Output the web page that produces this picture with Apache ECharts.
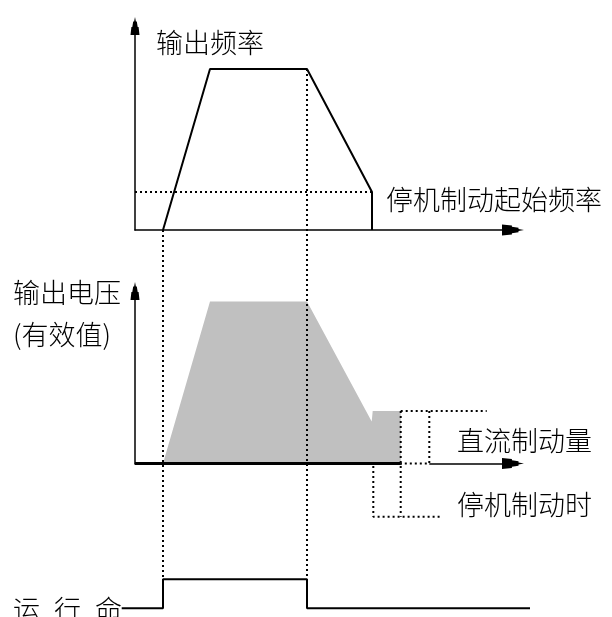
<!DOCTYPE html>
<html>
<head>
<meta charset="utf-8">
<script src="https://cdn.jsdelivr.net/npm/echarts@6/dist/echarts.min.js"></script>
<style>
  html, body { margin: 0; padding: 0; background: #fff; }
  #chart { width: 612px; height: 617px; }
</style>
</head>
<body>
<div id="chart"></div>
<script>
// time axis shared by the three panels (1 unit ~ 1 px)
var tFreq = [28, 75, 172, 237, 237];
var freqVals = [0, 161, 161, 38, 0];
var brakeFreq = 38;
var brakeFreqEnd = 237;

var tVolt = [28, 75, 172, 236.7, 237.7, 265.7, 265.7];
var voltVals = [0, 162, 162, 42, 52.5, 52.5, 0];
var voltBaseEnd = 265.7;

var tRun = [-13.3, 28, 28, 172, 172, 395];
var runVals = [0, 0, 1, 1, 0, 0];

// dotted guide lines from the frequency panel down to the run command
var guideT = [28, 172];
var guideFrom = [0, 161];
var guideTo = -349.3;

// dc braking markers (voltage panel units)
var dcLevel = 52.5;
var dcStartT = 265.7;
var dcEndT = 294.3;
var dcLineEnd = 351.7;
var stopTimeT = [238.3, 265.7];
var stopTimeLevel = -53.2;
var stopTimeLineEnd = 305;

var labelFont = "'Noto Sans CJK SC', sans-serif";
var arrowPath = "path://M5,0 L6,5 L7,5 L8,11 L9,11 L10,20 L0,20 L1,11 L2,11 L3,5 L4,5 Z";

function seg(xs, ys) {
  var out = [];
  for (var i = 0; i < xs.length; i++) out.push([xs[i], ys[i]]);
  return out;
}

function dotted(name, data, grid) {
  return {
    name: name,
    type: "line",
    xAxisIndex: grid,
    yAxisIndex: grid,
    data: data,
    symbol: "none",
    clip: false,
    silent: true,
    z: 5,
    lineStyle: { color: "#000", width: 2, type: [2, 3] }
  };
}

function label(text, x, y) {
  return {
    type: "text", left: x, top: y,
    style: { text: text, font: "300 27px " + labelFont, fill: "#000" }
  };
}

var chart = echarts.init(document.getElementById("chart"));

var axisLineStyle = { color: "#000", width: 1.5 };

var guideSeries = guideT.map(function (t, i) {
  return dotted("guide" + i, [[t, guideFrom[i]], [t, guideTo]], 0);
});

var xRanges = [[0, 378], [0, 378], [tRun[0], tRun[tRun.length - 1]]];

chart.setOption({
  animation: false,
  grid: [
    { left: 135, top: 26, width: 378, height: 204 },
    { left: 135, top: 291, width: 378, height: 172.5 },
    { left: 121.7, top: 579.3, width: 408.3, height: 29.0 }
  ],
  xAxis: [0, 1, 2].map(function (i) {
    return {
      type: "value",
      gridIndex: i,
      min: xRanges[i][0],
      max: xRanges[i][1],
      axisLine: {
        show: i < 2,
        onZero: false,
        symbol: ["none", arrowPath],
        symbolSize: [11, 22],
        lineStyle: axisLineStyle
      },
      axisTick: { show: false },
      axisLabel: { show: false },
      splitLine: { show: false }
    };
  }),
  yAxis: [
    { max: 204 },
    { max: 172.5 },
    { max: 1 }
  ].map(function (o, i) {
    return {
      type: "value",
      gridIndex: i,
      min: 0,
      max: o.max,
      axisLine: {
        show: i < 2,
        onZero: false,
        symbol: ["none", arrowPath],
        symbolSize: [9, 18],
        lineStyle: axisLineStyle
      },
      axisTick: { show: false },
      axisLabel: { show: false },
      splitLine: { show: false }
    };
  }),
  series: [
    {
      name: "输出频率",
      type: "line",
      xAxisIndex: 0,
      yAxisIndex: 0,
      data: seg(tFreq, freqVals),
      symbol: "none",
      clip: false,
      lineStyle: { color: "#000", width: 2 },
      z: 4
    },
    dotted("停机制动起始频率", [[0, brakeFreq], [brakeFreqEnd, brakeFreq]], 0),
    {
      name: "输出电压",
      type: "line",
      xAxisIndex: 1,
      yAxisIndex: 1,
      data: seg(tVolt, voltVals),
      symbol: "none",
      clip: false,
      lineStyle: { width: 0 },
      areaStyle: { color: "#c0c0c0", opacity: 1 },
      z: 2
    },
    {
      name: "baseline",
      type: "line",
      xAxisIndex: 1,
      yAxisIndex: 1,
      data: [[0, 0], [voltBaseEnd, 0]],
      symbol: "none",
      lineStyle: { color: "#000", width: 3 },
      z: 4
    },
    {
      name: "gap",
      type: "line",
      xAxisIndex: 1,
      yAxisIndex: 1,
      data: [[dcStartT + 1, 0], [dcEndT, 0]],
      symbol: "none",
      lineStyle: { color: "#fff", width: 3 },
      z: 4
    },
    dotted("直流制动量", [[dcStartT, dcLevel], [dcLineEnd, dcLevel]], 1),
    dotted("dc-left", [[dcStartT, dcLevel], [dcStartT, stopTimeLevel]], 1),
    dotted("dc-right", [[dcEndT, dcLevel], [dcEndT, 0], [dcStartT, 0]], 1),
    dotted("停机制动时", [[stopTimeT[0], -2.5], [stopTimeT[0], stopTimeLevel], [stopTimeLineEnd, stopTimeLevel]], 1),
    {
      name: "运行命令",
      type: "line",
      xAxisIndex: 2,
      yAxisIndex: 2,
      data: seg(tRun, runVals),
      symbol: "none",
      clip: false,
      lineStyle: { color: "#000", width: 2 },
      z: 4
    }
  ].concat(guideSeries),
  graphic: [
    label("输出频率", 156, 29),
    label("停机制动起始频率", 386, 186),
    label("输出电压", 13, 279),
    label("(有效值)", 13, 321),
    label("直流制动量", 457, 427),
    label("停机制动时", 457, 491),
    label("运", 13, 596),
    label("行", 54, 596),
    label("命", 95, 596)
  ]
});
</script>
</body>
</html>
